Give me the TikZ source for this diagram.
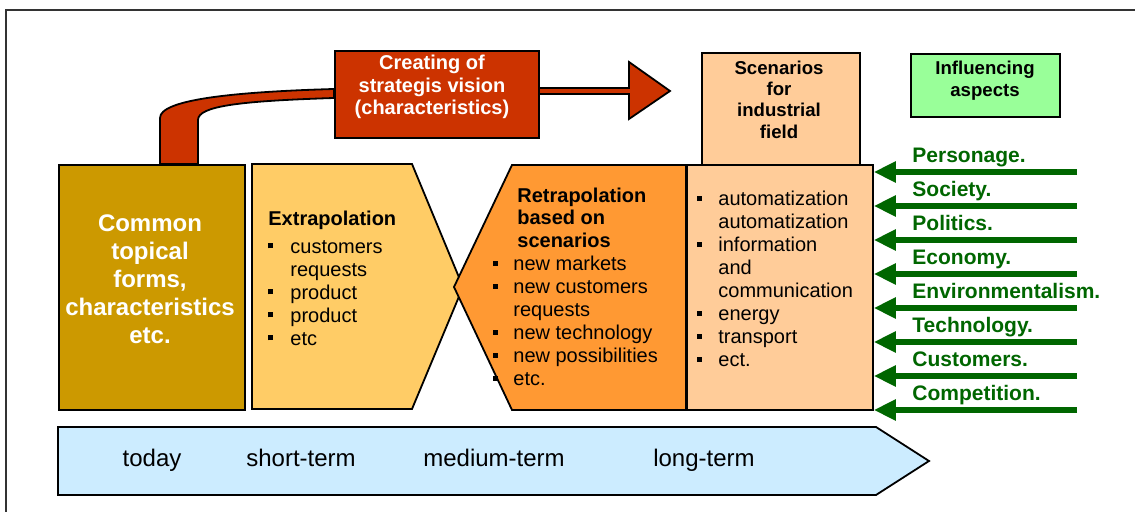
\documentclass[tikz,border=0pt]{standalone}
\usepackage{fontspec}
\setmainfont{Liberation Sans}
\usetikzlibrary{arrows.meta}

\definecolor{gold}{HTML}{CC9900}
\definecolor{extra}{HTML}{FFCC66}
\definecolor{retra}{HTML}{FF9933}
\definecolor{scen}{HTML}{FFCC99}
\definecolor{vred}{HTML}{CC3300}
\definecolor{lgreen}{HTML}{99FF99}
\definecolor{dgreen}{HTML}{006600}
\definecolor{tline}{HTML}{CCECFF}

\newcommand{\sqb}[1][10.5pt]{\makebox[#1][l]{\rule[2.5pt]{2.5pt}{2.5pt}}}
\newcommand{\ind}[1][10.5pt]{\hspace*{#1}}

\begin{document}
\begin{tikzpicture}[x=0.5pt, y=-0.5pt,
		box/.style={draw, line width=0.9pt, inner sep=0pt, anchor=north west},
		shp/.style={draw, line width=0.9pt},
		txt/.style={inner sep=0pt, anchor=north west, align=left, font=\fontsize{10}{11.5}\selectfont},
		hd/.style={inner sep=0pt, align=center, font=\bfseries\fontsize{9.3}{10.65}\selectfont},
		infl/.style={draw=dgreen, line width=3.2pt, -{Triangle[length=11pt, width=10pt]}},
		lbl/.style={text=dgreen, inner sep=0pt, anchor=base west, font=\bfseries\fontsize{10.5}{12}\selectfont}]
	\useasboundingbox (0,0) rectangle (1135,512);
	\draw[black!80, line width=1pt] (6,520) -- (6,10) -- (1140,10);
	
	% vision arrow
	\draw[shp, fill=vred] (160,164) -- (160,118) .. controls (160,100) and (230,92) .. (334,89)
		-- (334,98) .. controls (240,101) and (198,106) .. (198,120) -- (198,164) -- cycle;
	\draw[shp, fill=vred] (538,88) -- (629,88) -- (629,62) -- (670,91) -- (629,119) -- (629,94) -- (538,94) -- cycle;
	\node[box, fill=vred, minimum width=102pt, minimum height=43.5pt] (vision) at (334,50) {};
	\node[white, inner sep=0pt, align=center, font=\bfseries\fontsize{10}{11.25}\selectfont] (visiontxt) at (432,87) {Creating of\\strategis vision\\(characteristics)};
	
	% today
	\node[box, fill=gold, minimum width=93pt, minimum height=122.5pt] (common) at (58,164) {};
	\node[white, inner sep=0pt, align=center, font=\bfseries\fontsize{12}{14}\selectfont] (commontxt) at (150,279) {Common\\topical\\forms,\\characteristics\\etc.};
	
	% extrapolation / retrapolation
	\draw[shp, fill=extra] (252,164) -- (412,164) -- (463,287) -- (412,409) -- (252,409) -- cycle;
	\node[txt] (extxt) at (268,210.4) {\textbf{Extrapolation}\\[2.5pt]\sqb[11pt]customers\\\ind[11pt]requests\\\sqb[11pt]product\\\sqb[11pt]product\\\sqb[11pt]etc};
	\draw[shp, fill=retra] (512,165) -- (686,165) -- (686,410) -- (512,410) -- (454,287) -- cycle;
	\node[txt, font=\bfseries\fontsize{10}{11.25}\selectfont] (retitle) at (517,187.4) {Retrapolation\\based on\\scenarios};
	\node[txt] (retxt) at (493,255.7) {\sqb[10pt]new markets\\\sqb[10pt]new customers\\\ind[10pt]requests\\\sqb[10pt]new technology\\\sqb[10pt]new possibilities\\\sqb[10pt]etc.};
	
	% scenarios
	\node[box, fill=scen, minimum width=79pt, minimum height=56pt] (scenhd) at (701,52) {};
	\node[hd] (scentxt) at (779,99.5) {Scenarios\\for\\industrial\\field};
	\node[box, fill=scen, minimum width=93pt, minimum height=122.5pt] (list) at (686,164) {};
	\node[txt] (listtxt) at (697,190.7) {\sqb automatization\\\ind automatization\\\sqb information\\\ind and\\\ind communication\\\sqb energy\\\sqb transport\\\sqb ect.};
	
	% influencing aspects
	\node[box, fill=lgreen, minimum width=74.5pt, minimum height=31.5pt] (infbox) at (910,53) {};
	\node[hd, font=\bfseries\fontsize{9.3}{11}\selectfont] (inftxt) at (985,80.5) {Influencing\\aspects};
	\foreach \t [count=\i] in {Personage., Society., Politics., Economy., Environmentalism., Technology., Customers., Competition.}{
		\coordinate (tail\i) at (1077,138+34*\i);
		\draw[infl] (tail\i) -- (tail\i -| list.east);
		\node[lbl] (asp\i) at (912,129+34*\i) {\t};
	}
	
	% time axis
	\draw[shp, fill=tline] (58,427) -- (876,427) -- (929,461) -- (876,495) -- (58,495) -- cycle;
	\foreach \t/\x [count=\i] in {today/152, short-term/301, medium-term/494, long-term/704}
		\node[inner sep=0pt, anchor=base, font=\fontsize{12}{14}\selectfont] (tl\i) at (\x,467) {\t};
\end{tikzpicture}
\end{document}
